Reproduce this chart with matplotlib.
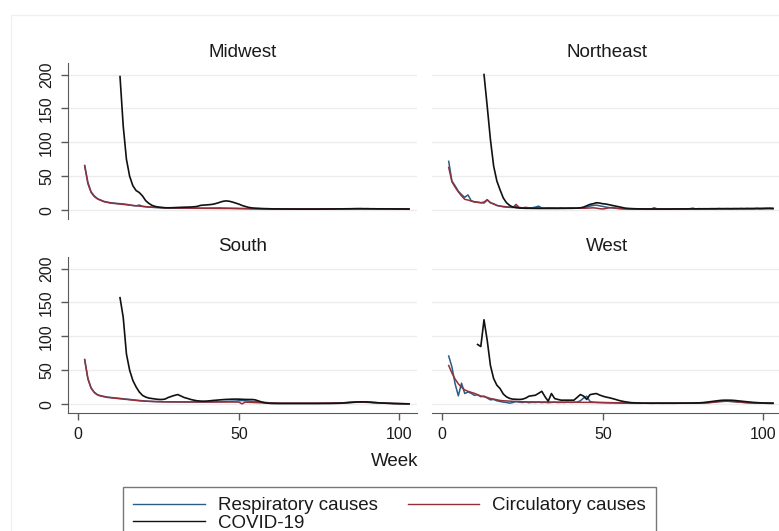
import numpy as np
import matplotlib
matplotlib.use("Agg")
import matplotlib.pyplot as plt
from matplotlib.patches import Rectangle

plt.rcParams['font.family'] = ['Liberation Sans', 'DejaVu Sans']

# ---------------- data ----------------
regions = ["Midwest", "Northeast", "South", "West"]
series_names = ["Respiratory causes", "Circulatory causes", "COVID-19"]
x_ticks = [0, 50, 100]
y_ticks = [0, 50, 100, 150, 200]
cause_start_week = 2
covid_start_week = {"Midwest": 13, "Northeast": 13, "South": 13, "West": 11}

midwest_resp = [66, 41, 27, 21, 17, 15, 13, 12, 11, 10.5,
                10, 9.6, 9.2, 8.6, 7.8, 6.8, 6.4, 7.6, 5.6, 5.0,
                4.6, 4.2, 4.0, 3.8, 3.6, 3.5, 3.4, 3.3, 3.2, 3.2,
                3.1, 3.0, 3.1, 3.0, 2.9, 3.0, 2.9, 3.0, 3.0, 3.1,
                3.1, 3.2, 3.3, 3.1, 3.0, 2.9, 2.8, 2.7, 2.6, 2.5,
                2.4, 2.3, 2.2, 2.1, 2.0, 1.9, 1.9, 1.8, 1.8, 1.7,
                1.7, 1.8, 1.7, 1.6, 1.7, 1.8, 1.7, 1.6, 1.7, 1.8,
                1.8, 1.7, 1.8, 1.9, 1.8, 1.9, 2.0, 1.9, 2.0, 2.1,
                2.0, 2.1, 2.2, 2.1, 2.2, 2.3, 2.2, 2.1, 2.2, 2.1,
                2.0, 2.1, 2.0, 1.9, 2.0, 2.1, 2.0, 1.9, 1.8, 1.9,
                1.8, 1.7]
midwest_circ = [65, 39, 26, 20, 16.5, 14.5, 12.5, 11.5, 10.5, 10,
                9.5, 9, 8.5, 8, 7.5, 7, 6.5, 6, 5.6, 5.2,
                4.8, 4.5, 4.2, 4.0, 3.8, 3.6, 3.5, 3.4, 3.3, 3.2,
                3.1, 3.0, 3.0, 2.9, 2.9, 2.8, 2.8, 2.8, 2.7, 2.7,
                2.7, 2.6, 2.6, 2.5, 2.5, 2.5, 2.4, 2.4, 2.3, 2.3,
                2.2, 2.2, 2.1, 2.1, 2.0, 2.0, 2.0, 1.9, 1.9, 1.9,
                1.8, 1.8, 1.8, 1.8, 1.8, 1.8, 1.8, 1.8, 1.8, 1.8,
                1.9, 1.9, 1.9, 1.9, 1.9, 2.0, 2.0, 2.0, 2.0, 2.0,
                2.1, 2.1, 2.1, 2.1, 2.1, 2.1, 2.1, 2.0, 2.0, 2.0,
                2.0, 2.0, 2.0, 1.9, 1.9, 1.9, 1.9, 1.8, 1.8, 1.8,
                1.8, 1.7]
midwest_covid = [197, 124, 75, 50, 36, 29, 26, 21, 14, 10,
                 7, 5.5, 4.5, 4.0, 3.6, 3.5, 3.6, 3.8, 4.0, 4.2,
                 4.4, 4.5, 4.7, 5.0, 5.5, 7.0, 7.5, 7.8, 8.2, 8.8,
                 10, 11.5, 13, 13.7, 13.2, 12, 10.5, 9, 7, 5.5,
                 4.2, 3.4, 3.0, 2.8, 2.5, 2.3, 2.2, 2.0, 1.9, 1.9,
                 1.8, 1.8, 1.7, 1.7, 1.7, 1.6, 1.6, 1.6, 1.6, 1.6,
                 1.6, 1.6, 1.6, 1.7, 1.7, 1.7, 1.8, 1.8, 1.9, 1.9,
                 2.0, 2.0, 2.1, 2.2, 2.2, 2.3, 2.2, 2.2, 2.1, 2.1,
                 2.0, 2.0, 2.0, 1.9, 1.9, 1.9, 1.8, 1.8, 1.8, 1.7,
                 1.6]

northeast_resp = [72, 43, 36, 28, 23, 19, 22.5, 14, 12.5, 12,
                  11, 10.5, 15, 11, 9.5, 7, 6, 5.5, 5, 4.5,
                  4.2, 5.5, 3.8, 3.5, 3.6, 3.3, 3.5, 4.5, 6.0, 3.2,
                  3.0, 3.6, 2.8, 3.2, 2.9, 3.4, 2.8, 3.0, 3.3, 2.9,
                  3.1, 3.3, 3.6, 4.5, 6.0, 7.0, 7.5, 6.5, 5.5, 4.5,
                  3.8, 3.2, 2.8, 2.5, 2.2, 2.0, 1.9, 1.8, 1.8, 1.7,
                  1.8, 1.7, 1.6, 1.8, 1.7, 2.0, 1.8, 1.6, 1.9, 1.7,
                  2.0, 1.8, 2.1, 1.7, 1.9, 2.2, 1.8, 2.0, 2.3, 1.9,
                  2.1, 2.0, 2.2, 1.9, 2.4, 2.0, 2.1, 2.3, 1.9, 2.2,
                  2.0, 2.3, 2.1, 2.4, 2.0, 2.2, 2.5, 2.1, 2.3, 2.6,
                  2.4, 2.2]
northeast_circ = [63, 42, 34, 27, 21, 16, 15, 13.5, 12, 11.5,
                  11, 12, 15.5, 11, 9, 7, 6, 5, 4.5, 4.2,
                  4.0, 8.5, 3.8, 3.5, 4.2, 3.3, 3.0, 3.6, 3.4, 3.0,
                  3.2, 2.9, 3.5, 3.0, 2.8, 3.3, 2.9, 3.1, 2.8, 3.0,
                  2.9, 3.1, 2.8, 3.0, 3.2, 3.5, 3.0, 2.2, 1.8, 2.5,
                  3.5, 4.0, 3.0, 2.5, 2.2, 2.0, 1.9, 1.8, 1.7, 1.7,
                  1.6, 1.7, 1.6, 1.7, 3.5, 1.8, 1.7, 1.6, 1.7, 1.6,
                  1.8, 1.7, 1.9, 1.7, 1.8, 2.0, 3.0, 1.8, 1.9, 2.0,
                  1.9, 2.1, 2.0, 1.9, 2.2, 2.0, 2.1, 2.0, 1.9, 2.1,
                  2.0, 2.2, 2.1, 2.0, 2.2, 2.1, 2.3, 2.2, 2.4, 2.3,
                  2.5, 2.2]
northeast_covid = [200, 153, 104, 65, 43, 30, 18, 11, 7, 4.5,
                   3.6, 3.2, 3.0, 2.8, 2.8, 2.7, 2.7, 2.6, 2.6, 2.6,
                   2.6, 2.6, 2.6, 2.6, 2.7, 2.7, 2.8, 2.8, 2.9, 3.0,
                   3.5, 4.5, 6.5, 8.5, 9.5, 11, 10.5, 9.5, 9, 8,
                   7, 6, 5, 4, 3, 2.6, 2.3, 2.1, 2.0, 1.9,
                   1.8, 1.8, 1.8, 1.7, 1.7, 1.7, 1.7, 1.7, 1.7, 1.8,
                   1.8, 1.8, 1.9, 1.9, 1.9, 2.0, 2.0, 2.0, 2.1, 2.1,
                   2.1, 2.2, 2.2, 2.2, 2.3, 2.3, 2.3, 2.3, 2.4, 2.4,
                   2.4, 2.4, 2.5, 2.5, 2.5, 2.6, 2.6, 2.6, 2.7, 2.8,
                   2.7]

south_resp = [66, 38, 24, 17.5, 14, 12.5, 11.5, 10.5, 10, 9.5,
              9, 8.5, 8, 7.5, 7, 6.5, 6, 5.5, 5, 4.6,
              4.3, 4.1, 3.9, 3.7, 3.6, 3.5, 3.4, 3.4, 3.3, 3.3,
              3.3, 3.2, 3.2, 3.2, 3.2, 3.2, 3.2, 3.2, 3.3, 3.3,
              3.4, 3.5, 3.6, 3.8, 4.0, 4.2, 4.4, 4.6, 5.0, 5.4,
              5.0, 4.6, 4.2, 3.8, 3.4, 3.0, 2.6, 2.3, 2.0, 1.8,
              1.6, 1.5, 1.4, 1.4, 1.4, 1.4, 1.4, 1.4, 1.4, 1.4,
              1.4, 1.4, 1.4, 1.4, 1.5, 1.5, 1.5, 1.6, 1.7, 1.8,
              2.0, 2.3, 2.6, 2.9, 3.1, 3.3, 3.4, 3.3, 3.1, 2.8,
              2.5, 2.2, 2.0, 1.8, 1.6, 1.4, 1.2, 1.0, 0.9, 0.8,
              0.7, 0.6]
south_circ = [65, 37, 23.5, 17, 13.5, 12, 11, 10, 9.5, 9,
              8.5, 8, 7.5, 7, 6.5, 6, 5.5, 5, 4.7, 4.4,
              4.2, 4.0, 3.8, 3.7, 3.6, 3.5, 3.5, 3.4, 3.4, 3.4,
              3.4, 3.4, 3.4, 3.4, 3.4, 3.4, 3.4, 3.3, 3.3, 3.3,
              3.3, 3.3, 3.3, 3.2, 3.2, 3.2, 3.2, 3.1, 3.1, 0.5,
              3.0, 2.8, 2.6, 2.4, 2.2, 2.0, 1.8, 1.7, 1.6, 1.5,
              1.5, 1.4, 1.4, 1.4, 1.4, 1.4, 1.4, 1.4, 1.4, 1.4,
              1.4, 1.4, 1.4, 1.5, 1.5, 1.5, 1.6, 1.6, 1.7, 1.8,
              1.9, 2.1, 2.3, 2.5, 2.7, 2.9, 3.0, 2.9, 2.7, 2.5,
              2.3, 2.1, 1.9, 1.7, 1.5, 1.3, 1.1, 1.0, 0.9, 0.8,
              0.7, 0.6]
south_covid = [157, 128, 74, 50, 35, 25.5, 18, 13, 10.5, 9,
               8.3, 7.6, 7, 6.9, 7.5, 9.8, 11.5, 13, 14.2, 12,
               9.8, 8.5, 7, 5.9, 5.0, 4.6, 4.4, 4.6, 5.0, 5.5,
               5.9, 6.3, 6.7, 7.0, 7.2, 7.4, 7.5, 7.4, 7.2, 7.0,
               6.9, 6.9, 6.5, 5, 3.4, 2.2, 1.5, 1.1, 1.0, 0.9,
               0.9, 0.9, 0.9, 0.9, 0.9, 0.9, 0.9, 0.9, 0.9, 0.9,
               0.9, 0.9, 0.9, 1.0, 1.0, 1.0, 1.1, 1.2, 1.3, 1.5,
               1.8, 2.2, 2.6, 3.0, 3.3, 3.4, 3.4, 3.2, 2.9, 2.5,
               2.2, 1.9, 1.6, 1.3, 1.1, 0.9, 0.8, 0.7, 0.6, 0.5,
               0.5]

west_resp = [71, 55, 30, 12.3, 31, 15.7, 18, 16, 13, 14,
             11, 12, 9, 6.4, 7, 5, 4, 3, 2.5, 1.5,
             2.5, 3.9, 3.0, 2.5, 3.2, 2.2, 2.8, 2.5, 3.0, 2.4,
             2.8, 2.2, 2.6, 3.0, 2.4, 2.7, 2.5, 3.0, 2.6, 2.8,
             3.0, 5.0, 9.0, 11.8, 4.0, 3.0, 2.6, 2.4, 2.2, 2.0,
             1.9, 1.8, 1.7, 1.6, 1.5, 1.4, 1.4, 1.3, 1.3, 1.3,
             1.3, 1.4, 1.3, 1.2, 1.3, 1.4, 1.3, 1.3, 1.4, 1.3,
             1.3, 1.4, 1.4, 1.5, 1.4, 1.5, 1.6, 1.6, 1.7, 1.8,
             2.0, 2.5, 3.0, 3.5, 4.0, 4.2, 4.4, 4.3, 4.0, 3.6,
             3.2, 2.8, 2.5, 2.2, 2.0, 1.8, 1.6, 1.5, 1.4, 1.3,
             1.2, 1.2]
west_circ = [57, 46, 37, 30, 25, 21, 19, 17.5, 16, 14,
             12, 11, 10, 8.3, 7.5, 6.5, 5.5, 5, 4.8, 4.5,
             4.2, 4.0, 3.8, 3.6, 3.5, 3.4, 3.4, 3.3, 3.3, 3.2,
             3.2, 3.1, 3.1, 3.0, 3.0, 3.0, 2.9, 2.9, 2.9, 2.8,
             2.8, 2.8, 2.7, 2.7, 2.7, 2.6, 2.6, 2.5, 2.5, 2.4,
             2.3, 2.2, 2.1, 2.0, 1.9, 1.8, 1.7, 1.6, 1.5, 1.5,
             1.4, 1.4, 1.4, 1.3, 1.3, 1.3, 1.3, 1.3, 1.3, 1.3,
             1.3, 1.3, 1.4, 1.4, 1.4, 1.4, 1.5, 1.5, 1.6, 1.7,
             1.8, 2.1, 2.5, 3.0, 3.5, 3.9, 4.2, 4.3, 4.1, 3.8,
             3.4, 3.0, 2.6, 2.3, 2.0, 1.8, 1.6, 1.5, 1.4, 1.3,
             1.2, 1.2]
west_covid = [88, 85, 124.5, 94, 57, 37.7, 28, 23, 15, 10.8,
              8.5, 7.4, 7.2, 7.0, 7.4, 9, 11.8, 12.5, 13.2, 16,
              19, 11, 4.4, 15.7, 8.3, 7, 5.9, 5.9, 5.9, 5.9,
              5.9, 10, 14.2, 12, 7, 14, 15, 15.7, 13.5, 11.8,
              10.5, 9.5, 8.3, 7.0, 5.5, 4.4, 3.5, 2.8, 2.2, 2.0,
              1.8, 1.6, 1.5, 1.5, 1.5, 1.5, 1.5, 1.5, 1.5, 1.5,
              1.5, 1.5, 1.5, 1.5, 1.5, 1.6, 1.6, 1.7, 1.8, 2.0,
              2.3, 2.8, 3.4, 4.0, 4.6, 5.2, 5.7, 5.9, 5.9, 5.8,
              5.5, 5.0, 4.5, 4.0, 3.5, 3.0, 2.6, 2.3, 2.0, 1.8,
              1.7, 1.6, 1.5]

data = {
    "Midwest": (midwest_resp, midwest_circ, midwest_covid),
    "Northeast": (northeast_resp, northeast_circ, northeast_covid),
    "South": (south_resp, south_circ, south_covid),
    "West": (west_resp, west_circ, west_covid),
}

# ---------------- style ----------------
colors = ["#2a5d87", "#93303c", "#111111"]
W, H = 779, 531
fig = plt.figure(figsize=(W / 100, H / 100), dpi=100)
fig.patch.set_facecolor("white")

# faint outer frame
fig.add_artist(Rectangle((11 / W, -0.1), 1.2, 1 - 15 / H + 0.1, transform=fig.transFigure,
                         fill=False, edgecolor="#f0f0f0", lw=1.0))

def add_ax(l, t, w, h):
    return fig.add_axes([l / W, 1 - (t + h) / H, w / W, h / H])

layout = {
    "Midwest": (68, 63, True, False),
    "Northeast": (432, 63, False, False),
    "South": (68, 257, True, True),
    "West": (432, 257, False, True),
}
PW, PH = 349, 156
axis_col = "#5a5a5a"
txt_col = "#1a1a1a"
handles = []
for name in regions:
    l, t, is_left, is_bottom = layout[name]
    ax = add_ax(l, t, PW, PH)
    ax.set_xlim(-3.2, 105.5)
    ax.set_ylim(-13, 217)
    for s in ax.spines.values():
        s.set_visible(False)
    for yv in y_ticks:
        ax.axhline(yv, color="#ececec", lw=1.0, zorder=0)
    resp, circ, covid = data[name]
    wk_c = np.arange(cause_start_week, cause_start_week + len(resp))
    wk_r = np.arange(cause_start_week, cause_start_week + len(circ))
    wk_v = np.arange(covid_start_week[name], covid_start_week[name] + len(covid))
    h1, = ax.plot(wk_c, resp, color=colors[0], lw=1.1, zorder=2)
    h2, = ax.plot(wk_r, circ, color=colors[1], lw=1.1, zorder=3)
    h3, = ax.plot(wk_v, covid, color=colors[2], lw=1.2, zorder=4)
    if not handles:
        handles = [h1, h2, h3]
    ax.set_title(name, fontsize=13.5, pad=4, color=txt_col)
    if is_left:
        ax.spines["left"].set_visible(True)
        ax.spines["left"].set_color(axis_col)
        ax.set_yticks(y_ticks)
        ax.set_yticklabels([str(v) for v in y_ticks], rotation=90, va="center",
                           fontsize=11.5, color=txt_col)
        ax.tick_params(axis="y", length=5, width=1, color=axis_col, pad=5)
    else:
        ax.set_yticks([])
    if is_bottom:
        ax.spines["bottom"].set_visible(True)
        ax.spines["bottom"].set_color(axis_col)
        ax.set_xticks(x_ticks)
        ax.set_xticklabels([str(v) for v in x_ticks], fontsize=11.5, color=txt_col)
        ax.tick_params(axis="x", length=5, width=1, color=axis_col, pad=5)
    else:
        ax.set_xticks([])
    ax.set_facecolor("none")

fig.text(395 / W, 1 - 461 / H, "Week", ha="center", va="center", fontsize=13.5, color=txt_col)

leg = fig.legend([handles[0], handles[2], handles[1]],
                 [series_names[0], series_names[2], series_names[1]],
                 ncol=2, loc="upper left", bbox_to_anchor=(123 / W, 1 - 487 / H),
                 frameon=True, fancybox=False, edgecolor="#555555", fontsize=13.5,
                 handlelength=3.8, handletextpad=0.7, columnspacing=1.6,
                 borderpad=0.55, labelspacing=0.0, borderaxespad=0)
leg.get_frame().set_linewidth(1.0)
for t in leg.get_texts():
    t.set_color(txt_col)
for ln in leg.get_lines():
    ln.set_linewidth(1.0)

fig.savefig("out.png", dpi=100, facecolor="white")
